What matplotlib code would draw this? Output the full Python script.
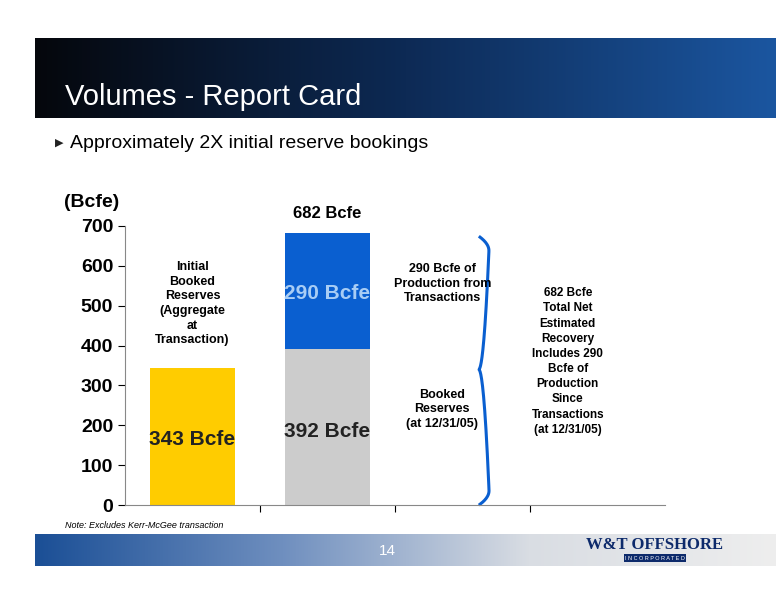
import numpy as np
import matplotlib.pyplot as plt
from matplotlib.colors import LinearSegmentedColormap

plt.rcParams["font.family"] = ["Liberation Sans", "DejaVu Sans"]

categories = ["initial", "current", "blank1", "blank2"]
booked = [343, 392, 0, 0]
production = [0, 290, 0, 0]
yticks = [0, 100, 200, 300, 400, 500, 600, 700]

W, H = 776, 600
fig = plt.figure(figsize=(W / 100, H / 100), dpi=100)
fig.patch.set_facecolor("white")

def px(x, y):
    return x / W, 1 - y / H

# header band
hdr = fig.add_axes([0.045, 1 - 118 / H, 0.955, 80 / H])
grad = np.linspace(0, 1, 256).reshape(1, -1)
hdr.imshow(grad, aspect="auto", cmap=LinearSegmentedColormap.from_list("h", ["#05070c", "#0d2a55", "#1b56a0"]))
hdr.axis("off")
fig.text(*px(65, 97), "Volumes - Report Card", color="white", fontsize=21, va="center")
fig.text(*px(55, 143), "\u25B6", color="#222222", fontsize=8, va="center", family="DejaVu Sans")
fig.text(*px(70, 143), "Approximately 2X initial reserve bookings", fontsize=14, va="center")

# footer band
ftr = fig.add_axes([0.045, 1 - 566 / H, 0.955, 32 / H])
ftr.imshow(grad, aspect="auto", cmap=LinearSegmentedColormap.from_list("f", ["#1b4f96", "#6f8fbf", "#d9dde3", "#eeeeee"]))
ftr.axis("off")
fig.text(*px(387, 551), "14", color="white", fontsize=11, ha="center", va="center")
fig.text(*px(655, 545), "W&T OFFSHORE", color="#0d2a6b", fontsize=12, ha="center", va="center",
         family="Liberation Serif", fontweight="bold")
fig.text(*px(655, 558), "I N C O R P O R A T E D", color="white", fontsize=4, ha="center", va="center",
         bbox=dict(facecolor="#0d2a6b", edgecolor="none", pad=1))
fig.text(*px(65, 526), "Note: Excludes Kerr-McGee transaction", fontsize=6.5, style="italic", va="center")

# chart
l, r, t, b = 125, 665, 226, 505
ax = fig.add_axes([l / W, 1 - b / H, (r - l) / W, (b - t) / H])
x = np.arange(len(categories))
ax.bar(x[:1], booked[:1], width=0.63, color="#ffcc00")
ax.bar(x[1:2], booked[1:2], width=0.63, color="#cccccc")
ax.bar(x[1:2], production[1:2], bottom=booked[1:2], width=0.63, color="#0a5fd0")
ax.set_xlim(-0.5, 3.5)
ax.set_ylim(0, 700)
ax.set_yticks(yticks)
ax.set_yticklabels([str(v) for v in yticks], fontsize=14, fontweight="bold")
ax.set_xticks([0.5, 1.5, 2.5])
ax.set_xticklabels([])
ax.tick_params(axis="x", length=5, direction="out")
ax.tick_params(axis="y", length=5)
for s in ["top", "right"]:
    ax.spines[s].set_visible(False)
ax.spines["left"].set_color("#888888")
ax.spines["bottom"].set_color("#888888")

ax.text(0, 165, "343 Bcfe", ha="center", va="center", fontsize=15, fontweight="bold", color="#222222")
ax.text(1, 185, "392 Bcfe", ha="center", va="center", fontsize=15, fontweight="bold", color="#222222")
ax.text(1, 530, "290 Bcfe", ha="center", va="center", fontsize=15, fontweight="bold", color="#a8cdf5")
ax.text(1, 712, "682 Bcfe", ha="center", va="bottom", fontsize=12, fontweight="bold", clip_on=False)
ax.text(0, 505, "Initial\nBooked\nReserves\n(Aggregate\nat\nTransaction)", ha="center", va="center", fontsize=9, fontweight="bold", linespacing=1.3)
ax.text(1.85, 555, "290 Bcfe of\nProduction from\nTransactions", ha="center", va="center", fontsize=9, fontweight="bold", linespacing=1.3)
ax.text(1.85, 240, "Booked\nReserves\n(at 12/31/05)", ha="center", va="center", fontsize=9, fontweight="bold", linespacing=1.3)
ax.text(2.78, 360, "682 Bcfe\nTotal Net\nEstimated\nRecovery\nIncludes 290\nBcfe of\nProduction\nSince\nTransactions\n(at 12/31/05)", ha="center", va="center", fontsize=8.5, fontweight="bold", linespacing=1.35)
ax.text(-0.95, 760, "(Bcfe)", ha="left", va="center", fontsize=14, fontweight="bold", clip_on=False)

# curly brace
yy = np.linspace(2, 672, 400)
mid = 340
xb = 2.12 + 0.08 * np.sqrt(np.clip(np.abs(yy - mid) / 332, 0, 1))
xb -= 0.07 * (np.maximum(0, 1 - np.abs(yy - 2) / 35) + np.maximum(0, 1 - np.abs(yy - 672) / 35)) ** 2
ax.plot(xb, yy, color="#0a5fd0", lw=2.2, clip_on=False)

fig.savefig("out.png", dpi=100)
